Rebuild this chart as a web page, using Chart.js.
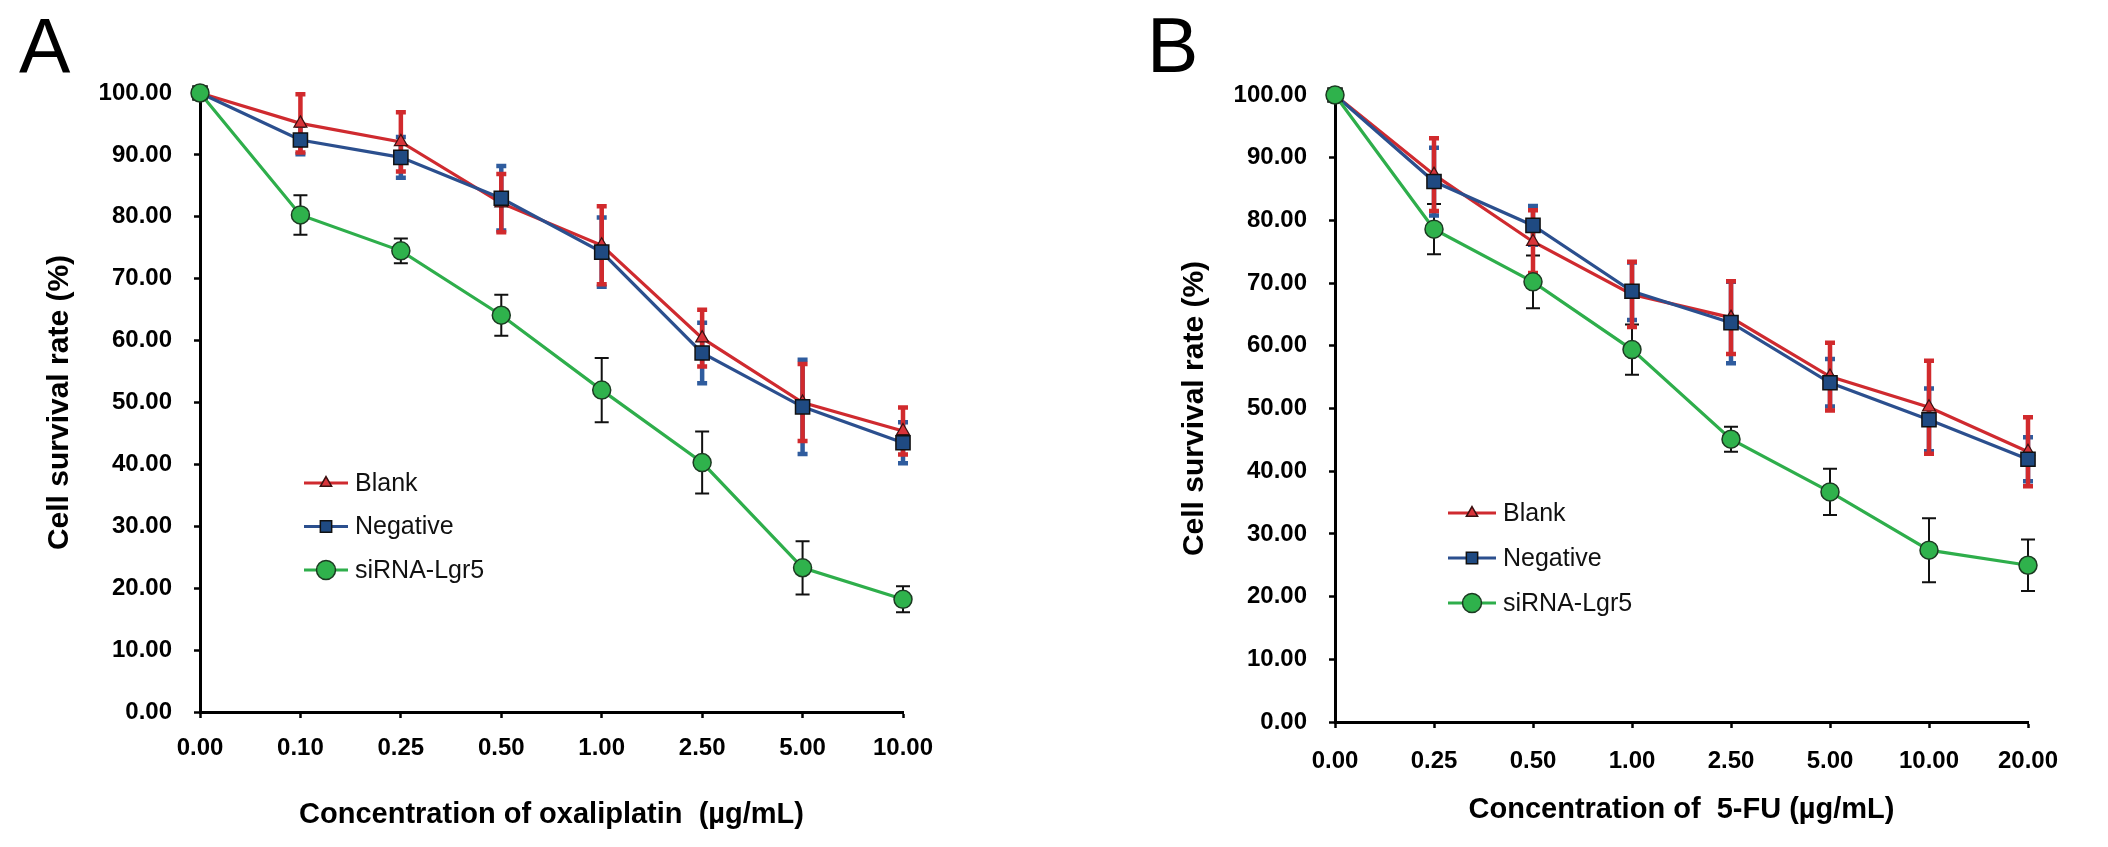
<!DOCTYPE html>
<html>
<head>
<meta charset="utf-8">
<script src="https://cdn.jsdelivr.net/npm/chart.js@4.4.1/dist/chart.umd.min.js"></script>
<style>
  html, body { margin: 0; padding: 0; background: #fff; }
  #wrap { position: relative; width: 2108px; height: 847px; overflow: hidden; }
  canvas { position: absolute; top: 0; }
  .panel-tag { position: absolute; font-family: "Liberation Sans", Arial, sans-serif; font-size: 77px; line-height: 1; color: #000; }
</style>
</head>
<body>
<div id="wrap">
  <canvas id="chartA" width="1054" height="847" style="left:0"></canvas>
  <canvas id="chartB" width="1054" height="847" style="left:1054px"></canvas>
  <div class="panel-tag" style="left:19px; top:8px;">A</div>
  <div class="panel-tag" style="left:1147px; top:7px;">B</div>
</div>
<script>
// Panel A - oxaliplatin
const labelsA = ['0.00', '0.10', '0.25', '0.50', '1.00', '2.50', '5.00', '10.00'];
const blankA = [100, 95.1, 92.1, 82.2, 75.4, 60.4, 50.0, 45.4];
const blankAErr = [0, 4.7, 4.8, 4.7, 6.3, 4.6, 6.2, 3.8];
const negativeA = [100, 92.4, 89.6, 83.0, 74.3, 58.0, 49.3, 43.5];
const negativeAErr = [0, 2.3, 3.3, 5.2, 5.6, 4.9, 7.6, 3.3];
const sirnaA = [100, 80.3, 74.5, 64.1, 52.0, 40.3, 23.3, 18.2];
const sirnaAErr = [0, 3.2, 2.0, 3.3, 5.2, 5.0, 4.3, 2.1];

// Panel B - 5-FU
const labelsB = ['0.00', '0.25', '0.50', '1.00', '2.50', '5.00', '10.00', '20.00'];
const blankB = [100, 87.3, 76.6, 68.2, 64.5, 55.1, 50.2, 43.1];
const blankBErr = [0, 5.8, 5.0, 5.2, 5.8, 5.4, 7.4, 5.5];
const negativeB = [100, 86.2, 79.2, 68.7, 63.7, 54.1, 48.2, 41.9];
const negativeBErr = [0, 5.4, 3.1, 4.6, 6.5, 3.8, 5.0, 3.5];
const sirnaB = [100, 78.6, 70.2, 59.4, 45.1, 36.7, 27.4, 25.0];
const sirnaBErr = [0, 4.0, 4.2, 4.0, 2.0, 3.7, 5.1, 4.1];

const seriesNames = ['Blank', 'Negative', 'siRNA-Lgr5'];
const yTicks = [0, 10, 20, 30, 40, 50, 60, 70, 80, 90, 100];

const FONT = '"Liberation Sans", Arial, sans-serif';
Chart.defaults.font.family = FONT;
Chart.defaults.color = '#000';

// error bars drawn under the lines, through the chart scales
const errorBars = {
    id: 'errorBars',
    beforeDatasetsDraw(chart) {
        const { ctx } = chart;
        const xs = chart.scales.x, ys = chart.scales.y;
        chart.data.datasets.forEach(ds => {
            if (!ds.errors) return;
            ctx.save();
            ctx.strokeStyle = ds.errorColor;
            ctx.lineWidth = ds.errorWidth;
            ds.data.forEach((v, j) => {
                const e = ds.errors[j];
                if (!e) return;
                const px = xs.getPixelForValue(j);
                const top = ys.getPixelForValue(v + e);
                const bot = ys.getPixelForValue(v - e);
                const cap = ds.errorCap;
                ctx.beginPath();
                ctx.moveTo(px, top); ctx.lineTo(px, bot);
                ctx.moveTo(px - cap, top); ctx.lineTo(px + cap, top);
                ctx.moveTo(px - cap, bot); ctx.lineTo(px + cap, bot);
                ctx.stroke();
            });
            ctx.restore();
        });
    }
};

function drawMarker(ctx, style, x, y, r, fill, stroke, lw) {
    ctx.save();
    ctx.fillStyle = fill;
    ctx.strokeStyle = stroke;
    ctx.lineWidth = lw;
    ctx.beginPath();
    if (style === 'circle') {
        ctx.arc(x, y, r, 0, Math.PI * 2);
    } else if (style === 'rect') {
        const s = r * Math.SQRT1_2;
        ctx.rect(x - s, y - s, 2 * s, 2 * s);
    } else {
        ctx.moveTo(x, y - r);
        ctx.lineTo(x + r * 0.866, y + r * 0.5);
        ctx.lineTo(x - r * 0.866, y + r * 0.5);
        ctx.closePath();
    }
    ctx.fill();
    ctx.stroke();
    ctx.restore();
}

// legend inside the plot area
const innerLegend = {
    id: 'innerLegend',
    afterDraw(chart, args, opts) {
        const { ctx } = chart;
        const area = chart.chartArea;
        const order = [2, 1, 0]; // datasets are stored top-most first
        order.forEach((di, k) => {
            const ds = chart.data.datasets[di];
            const y = area.top + opts.top + k * opts.gap;
            const x0 = area.left + opts.left;
            ctx.save();
            ctx.strokeStyle = ds.borderColor;
            ctx.lineWidth = 3;
            ctx.beginPath();
            ctx.moveTo(x0, y);
            ctx.lineTo(x0 + opts.lineLen, y);
            ctx.stroke();
            ctx.restore();
            drawMarker(ctx, ds.pointStyle, x0 + opts.lineLen / 2, y, ds.legendRadius,
                ds.pointBackgroundColor, ds.pointBorderColor, 1.5);
            ctx.save();
            ctx.fillStyle = '#111';
            ctx.font = '25px ' + FONT;
            ctx.textBaseline = 'middle';
            ctx.fillText(ds.label, x0 + opts.lineLen + 7, y + 1);
            ctx.restore();
        });
    }
};

function makeDatasets(blank, blankErr, neg, negErr, sirna, sirnaErr) {
    return [
        {
            label: seriesNames[2], data: sirna, errors: sirnaErr,
            errorColor: '#111', errorWidth: 2, errorCap: 7,
            borderColor: '#2eae4b', borderWidth: 3.2,
            pointStyle: 'circle', pointRadius: 9, legendRadius: 9.5,
            pointBackgroundColor: '#2fb24c', pointBorderColor: '#1c3a22', pointBorderWidth: 1.5,
            clip: false
        },
        {
            label: seriesNames[1], data: neg, errors: negErr,
            errorColor: '#2f5c9e', errorWidth: 4.5, errorCap: 5,
            borderColor: '#2b4f8e', borderWidth: 3.2,
            pointStyle: 'rect', pointRadius: 10, legendRadius: 8,
            pointBackgroundColor: '#1f4a82', pointBorderColor: '#111', pointBorderWidth: 1.5,
            clip: false
        },
        {
            label: seriesNames[0], data: blank, errors: blankErr,
            errorColor: '#d12a2d', errorWidth: 4.5, errorCap: 5,
            borderColor: '#cf2a2f', borderWidth: 3.2,
            pointStyle: 'triangle', pointRadius: 7.5, legendRadius: 6.5,
            pointBackgroundColor: '#d8343a', pointBorderColor: '#3a1010', pointBorderWidth: 1.2,
            clip: false
        }
    ];
}

function makeChart(id, labels, datasets, g) {
    const axisBase = {
        border: { display: true, color: '#000', width: 3 },
        grid: { drawOnChartArea: false, drawTicks: true, tickLength: 6, tickColor: '#000', tickWidth: 2.5 }
    };
    return new Chart(document.getElementById(id), {
        type: 'line',
        data: { labels: labels, datasets: datasets },
        plugins: [errorBars, innerLegend],
        options: {
            responsive: false,
            animation: false,
            devicePixelRatio: 1,
            layout: { padding: { top: g.top, right: g.right, left: 0, bottom: 0 } },
            plugins: {
                legend: { display: false },
                tooltip: { enabled: false },
                innerLegend: g.legend
            },
            scales: {
                x: {
                    ...axisBase,
                    offset: false,
                    ticks: { font: { size: 24, weight: 'bold' }, padding: g.xTickPad, maxRotation: 0, autoSkip: false },
                    title: {
                        display: true, text: g.xTitle,
                        font: { size: 29, weight: 'bold' },
                        padding: { top: 0, bottom: g.xTitlePad }
                    },
                    afterFit: s => { s.height = g.xHeight; }
                },
                y: {
                    ...axisBase,
                    min: 0, max: 100,
                    afterBuildTicks: s => { s.ticks = yTicks.map(v => ({ value: v })); },
                    ticks: {
                        font: { size: 24, weight: 'bold' }, padding: 22,
                        callback: v => Number(v).toFixed(2)
                    },
                    title: {
                        display: true, text: 'Cell survival rate (%)',
                        font: { size: 30, weight: 'bold' },
                        padding: { top: g.yTitlePad, bottom: 0 }
                    },
                    afterFit: s => { s.width = g.yWidth; }
                }
            }
        }
    });
}

makeChart('chartA', labelsA,
    makeDatasets(blankA, blankAErr, negativeA, negativeAErr, sirnaA, sirnaAErr), {
        top: 93, right: 151, yWidth: 200, xHeight: 135,
        xTickPad: 16, xTitlePad: 15, yTitlePad: 42,
        xTitle: 'Concentration of oxaliplatin  (µg/mL)',
        legend: { left: 104, top: 390, gap: 43.5, lineLen: 44 }
    });

makeChart('chartB', labelsB,
    makeDatasets(blankB, blankBErr, negativeB, negativeBErr, sirnaB, sirnaBErr), {
        top: 95, right: 80, yWidth: 281, xHeight: 125,
        xTickPad: 19, xTitlePad: 20, yTitlePad: 123,
        xTitle: 'Concentration of  5-FU (µg/mL)',
        legend: { left: 113, top: 418, gap: 45, lineLen: 48 }
    });
</script>
</body>
</html>
